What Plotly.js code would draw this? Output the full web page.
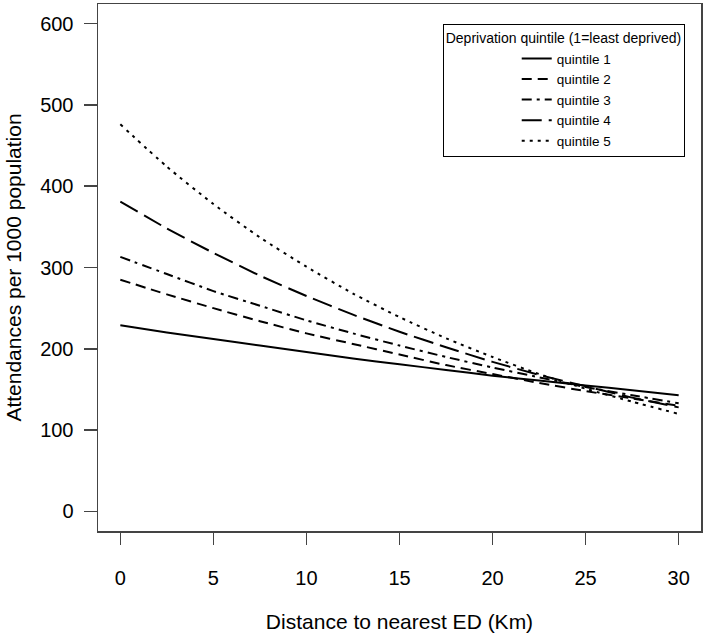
<!DOCTYPE html>
<html>
<head>
<meta charset="utf-8">
<script src="https://cdn.plot.ly/plotly-3.0.1.min.js"></script>
<style>html,body{margin:0;padding:0;background:#fff;}#chart{width:706px;height:639px;}</style>
</head>
<body>
<div id="chart"></div>
<script>
// Distance to nearest ED (Km)
const distance = [0, 2.5, 5, 7.5, 10, 12.5, 15, 17.5, 20, 22.5, 25, 27.5, 30];
// Attendances per 1000 population
const quintile1 = [229, 220, 212, 204, 196, 188, 181, 174, 167, 161, 155, 149, 143];
const quintile2 = [285, 267, 250, 234, 219, 206, 193, 180, 169, 158, 148, 139, 130];
const quintile3 = [313, 292, 271, 253, 235, 219, 204, 190, 177, 165, 153, 143, 133];
const quintile4 = [381, 348, 318, 290, 265, 242, 221, 202, 184, 168, 154, 140, 128];
const quintile5 = [476, 424, 378, 337, 301, 268, 239, 213, 190, 169, 151, 135, 120];
const seriesNames = ["quintile 1", "quintile 2", "quintile 3", "quintile 4", "quintile 5"];
const xTicks = [0, 5, 10, 15, 20, 25, 30];
const yTicks = [0, 100, 200, 300, 400, 500, 600];

const dashes = ["solid", "10px,6px", "10px,5px,3px,5px", "20px,7px", "3px,5px"];
const allSeries = [quintile1, quintile2, quintile3, quintile4, quintile5];

const traces = allSeries.map((ys, i) => ({
  x: distance,
  y: ys,
  type: "scatter",
  mode: "lines",
  name: seriesNames[i],
  line: {color: "#000", width: 2, dash: dashes[i], shape: "spline", smoothing: 0.6}
}));

const font = "Liberation Sans, Arial, sans-serif";
const layout = {
  width: 706, height: 639,
  margin: {l: 98, r: 5, t: 4, b: 108},
  paper_bgcolor: "#fff", plot_bgcolor: "#fff",
  font: {family: font, color: "#000", size: 20},
  showlegend: true,
  legend: {
    x: 0.973, xanchor: "right", y: 0.962, yanchor: "top",
    bordercolor: "#000", borderwidth: 1, bgcolor: "#fff",
    font: {family: font, size: 13.5, color: "#000"},
    title: {text: "Deprivation quintile (1=least deprived)", font: {family: font, size: 14, color: "#000"}, side: "top"},
    indentation: 73,
    itemwidth: 30,
    tracegroupgap: 0
  },
  xaxis: {
    range: [-1.2, 31.2], tickvals: xTicks, ticktext: xTicks.map(String),
    ticks: "outside", ticklen: 12, tickwidth: 1.5, tickcolor: "#444",
    showline: true, mirror: true, linecolor: "#444", linewidth: 1.5,
    showgrid: false, zeroline: false, ticklabelstandoff: 16,
    tickfont: {family: font, size: 20, color: "#000"},
    title: {text: "Distance to nearest ED (Km)", font: {family: font, size: 21, color: "#000"}, standoff: 27}
  },
  yaxis: {
    range: [-24, 624], tickvals: yTicks, ticktext: yTicks.map(String),
    ticks: "outside", ticklen: 13, tickwidth: 1.5, tickcolor: "#444",
    showline: true, mirror: true, linecolor: "#444", linewidth: 1.5,
    showgrid: false, zeroline: false, ticklabelstandoff: 6,
    tickfont: {family: font, size: 20, color: "#000"},
    title: {text: "Attendances per 1000 population", font: {family: font, size: 21, color: "#000"}, standoff: 13}
  }
};

Plotly.newPlot("chart", traces, layout, {staticPlot: true, displayModeBar: false});
</script>
</body>
</html>
